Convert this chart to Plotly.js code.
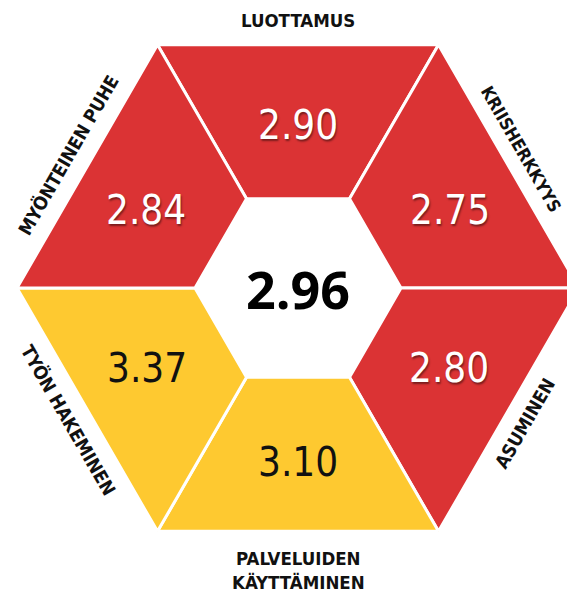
<!DOCTYPE html>
<html>
<head>
<meta charset="utf-8">
<script src="https://cdn.plot.ly/plotly-3.0.1.min.js"></script>
<style>html,body{margin:0;padding:0;background:#fff;overflow:hidden}#chart{width:567px;height:598px}</style>
</head>
<body>
<div id="chart"></div>
<script>
// Segments, clockwise starting from the top
const categories = ["LUOTTAMUS", "KRIISHERKKYYS", "ASUMINEN", "PALVELUIDEN<br>KÄYTTÄMINEN", "TYÖN HAKEMINEN", "MYÖNTEINEN PUHE"];
const values = [2.90, 2.75, 2.80, 3.10, 3.37, 2.84];
const valueLabels = ["2.90", "2.75", "2.80", "3.10", "3.37", "2.84"];
const overall = 2.96;
const overallLabel = "2.96";
const threshold = 3.0;

const RED = "#DB3334", YELLOW = "#FEC930";
const cx = 298, cy = 288, Rout = 281, Rin = 103;
const deg = Math.PI / 180;
function pt(r, a) { return [cx + r * Math.cos(a * deg), cy + r * Math.sin(a * deg)]; }

const traces = [];
const ann = [];
categories.forEach((c, i) => {
  const mid = -90 + 60 * i;
  const a1 = mid - 30, a2 = mid + 30;
  const p = [pt(Rout, a1), pt(Rout, a2), pt(Rin, a2), pt(Rin, a1), pt(Rout, a1)];
  const isHigh = values[i] >= threshold;
  traces.push({
    type: "scatter", mode: "lines", fill: "toself",
    x: p.map(q => q[0]), y: p.map(q => q[1]),
    fillcolor: isHigh ? YELLOW : RED,
    line: { color: "#ffffff", width: 3 },
    hoverinfo: "skip", showlegend: false
  });
  const isVert = (i === 0 || i === 3);
  const rv = isVert ? (i === 0 ? 163 : 174) : 171;
  const av = isVert ? mid : (mid > -90 && mid < 90 ? (mid < 0 ? -27 : 28) : (mid < 180 && mid > 90 ? 152 : 207));
  const lp = pt(rv, av);
  ann.push({
    x: lp[0], y: lp[1], xref: "x", yref: "y", showarrow: false,
    text: valueLabels[i],
    font: { family: "DejaVu Sans Condensed, sans-serif", size: 40,
            color: isHigh ? "#111111" : "#ffffff",
            shadow: isHigh ? "none" : "1px 2px 2px rgba(0,0,0,0.45)" }
  });
  const edgeR = Rout * Math.cos(30 * deg);
  let rl = edgeR + 23, tang = 0, along = 0, fs = 18.5;
  if (i === 0) { rl = edgeR + 24; tang = 0; }
  else if (i === 3) { rl = edgeR + 39; tang = 0; }
  else if (i === 1) { tang = 60; rl = edgeR + 19; along = -9; fs = 17.5; }
  else if (i === 4) { tang = 60; rl = edgeR + 22; }
  else if (i === 2) { tang = -60; rl = edgeR + 21; along = 4; }
  else { tang = -60; rl = edgeR + 22; }
  const cp = pt(rl, mid);
  const ta = (mid + 90) * deg;
  ann.push({
    x: cp[0] + along * Math.cos(ta), y: cp[1] + along * Math.sin(ta), xref: "x", yref: "y", showarrow: false,
    text: c, textangle: tang,
    font: { family: "DejaVu Sans Condensed, sans-serif", size: fs, color: "#111111", weight: 700 }
  });
});
ann.push({
  x: cx, y: cy, xref: "x", yref: "y", showarrow: false,
  text: "<b>" + overallLabel + "</b>",
  font: { family: "Open Sans, Roboto, sans-serif", size: 52, color: "#000000" }
});

Plotly.newPlot("chart", traces, {
  width: 567, height: 598,
  margin: { l: 0, r: 0, t: 0, b: 0, pad: 0 },
  paper_bgcolor: "#ffffff", plot_bgcolor: "#ffffff",
  xaxis: { range: [0, 567], visible: false, fixedrange: true },
  yaxis: { range: [598, 0], visible: false, fixedrange: true },
  annotations: ann, showlegend: false
}, { displayModeBar: false, staticPlot: true });
</script>
</body>
</html>
